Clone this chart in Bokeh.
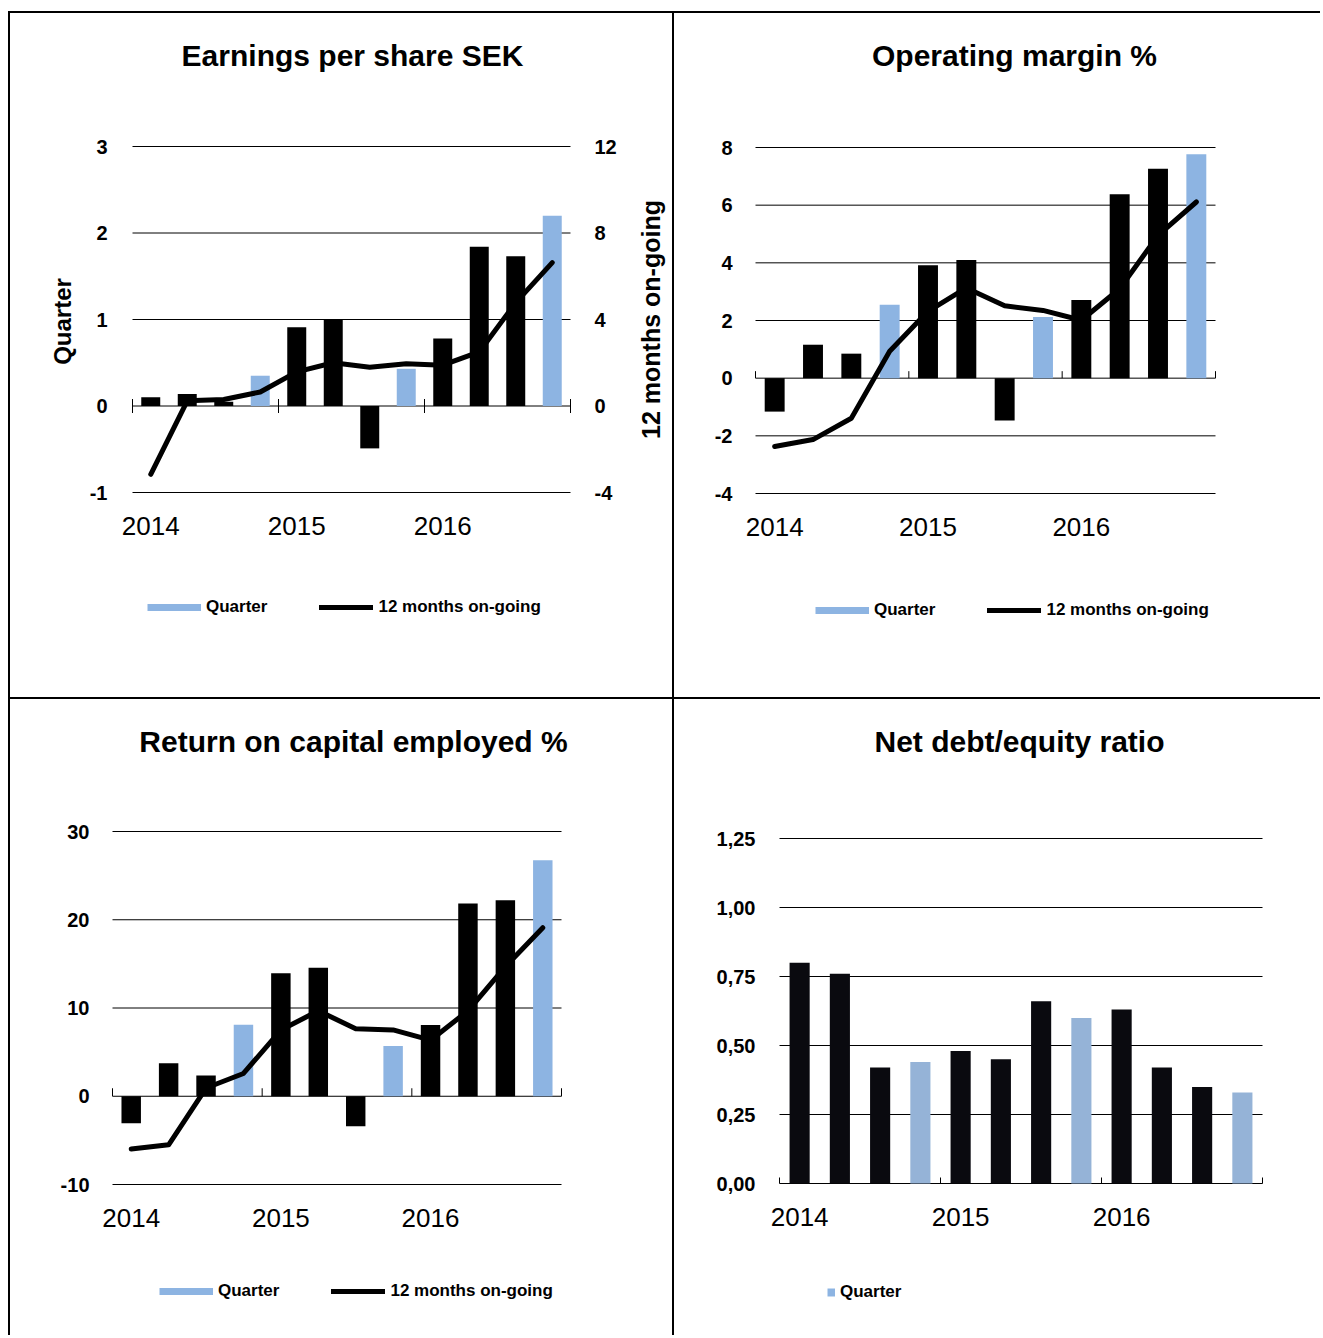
import math
from bokeh.plotting import figure
from bokeh.models import (Range1d, FixedTicker, Legend, LegendItem,
                          ColumnDataSource, Div, CustomJSTickFormatter)
from bokeh.core.properties import value
from bokeh.layouts import row, column
from bokeh.embed import file_html
from bokeh.resources import INLINE

# ---------------- data ----------------
quarters = ["Q1 2014", "Q2 2014", "Q3 2014", "Q4 2014",
            "Q1 2015", "Q2 2015", "Q3 2015", "Q4 2015",
            "Q1 2016", "Q2 2016", "Q3 2016", "Q4 2016"]
year_labels = ["2014", "2015", "2016"]

eps_quarter = [0.10, 0.14, 0.05, 0.35, 0.91, 1.00, -0.49, 0.43, 0.78, 1.84, 1.73, 2.20]
eps_12m = [-3.16, 0.24, 0.30, 0.65, 1.58, 2.00, 1.79, 1.95, 1.89, 2.50, 4.78, 6.63]
eps_left_ticks = [-1, 0, 1, 2, 3]
eps_right_ticks = [-4, 0, 4, 8, 12]

om_quarter = [-1.16, 1.16, 0.85, 2.55, 3.92, 4.10, -1.47, 2.12, 2.71, 6.38, 7.26, 7.77]
om_12m = [-2.37, -2.13, -1.39, 0.93, 2.32, 3.13, 2.51, 2.35, 2.01, 3.10, 4.95, 6.11]
om_ticks = [-4, -2, 0, 2, 4, 6, 8]

roce_quarter = [-3.06, 3.75, 2.35, 8.10, 13.95, 14.56, -3.40, 5.70, 8.08, 21.85, 22.20, 26.75]
roce_12m = [-5.97, -5.50, 0.93, 2.58, 7.50, 9.68, 7.66, 7.52, 6.35, 9.68, 14.70, 19.10]
roce_ticks = [-10, 0, 10, 20, 30]

nde_quarter = [0.80, 0.76, 0.42, 0.44, 0.48, 0.45, 0.66, 0.60, 0.63, 0.42, 0.35, 0.33]
nde_ticks = [0.0, 0.25, 0.50, 0.75, 1.00, 1.25]

# ---------------- style ----------------
FONT = "Liberation Sans"
BLACK = "#000000"
BLUE = "#8DB4E2"
BLUE4 = "#95B3D7"
DARK4 = "#0A0A0F"
NAN = float("nan")
TICK_FS = "20px"

xs = list(range(len(quarters)))
NQ = len(quarters)
year_pos = [i for i, q in enumerate(quarters) if q.startswith("Q1")]
bounds = [i - 0.5 for i in year_pos] + [NQ - 0.5]

INT_FMT = "return tick.toFixed(0);"
DEC_FMT = "return tick.toFixed(2).replace('.', ',');"


def style_yaxis(ax, ticks, standoff, fmt):
    ax.ticker = FixedTicker(ticks=ticks)
    ax.formatter = CustomJSTickFormatter(code=fmt)
    ax.axis_line_color = None
    ax.major_tick_line_color = None
    ax.minor_tick_line_color = None
    ax.major_tick_out = 0
    ax.major_tick_in = 0
    ax.minor_tick_out = 0
    ax.major_label_standoff = standoff
    ax.major_label_text_font = FONT
    ax.major_label_text_font_size = TICK_FS
    ax.major_label_text_font_style = "bold"
    ax.major_label_text_color = "black"


class Panel:
    """One chart: pixel layout constants are relative to the figure's top-left."""

    def __init__(self, title, title_cx, width, height, frame_l, frame_r, frame_h,
                 chart_l, chart_r, chart_top, chart_bottom, yticks, y_standoff, fmt,
                 tick_up, tick_down):
        self.lo, self.hi = min(yticks), max(yticks)
        self.chart_top = chart_top
        self.chart_bottom = chart_bottom
        self.frame_h = frame_h
        self.chart_l = chart_l
        self.ppu = (chart_bottom - chart_top) / (self.hi - self.lo)
        self.ppx = (chart_r - chart_l) / NQ
        x0 = -0.5 - (chart_l - frame_l) / self.ppx
        x1 = NQ - 0.5 + (frame_r - chart_r) / self.ppx
        p = figure(width=width, height=height, output_backend="svg", toolbar_location=None,
                   title=None, x_axis_location=None,
                   x_range=Range1d(x0, x1), y_range=Range1d(self.y_at(frame_h), self.y_at(0)),
                   min_border_left=frame_l, min_border_right=width - frame_r,
                   min_border_top=0, min_border_bottom=height - frame_h)
        p.outline_line_color = None
        p.background_fill_color = "white"
        p.border_fill_color = "white"
        p.xgrid.visible = False
        p.ygrid.visible = False
        style_yaxis(p.yaxis[0], yticks, y_standoff, fmt)
        self.p = p

        # horizontal grid lines across the chart area
        p.segment(x0=[-0.5] * len(yticks), x1=[NQ - 0.5] * len(yticks), y0=yticks, y1=yticks,
                  line_color="black", line_width=1)
        # small tick marks on the zero line at year boundaries
        p.segment(x0=bounds, x1=bounds, y0=[-tick_down / self.ppu] * len(bounds),
                  y1=[tick_up / self.ppu] * len(bounds), line_color="black", line_width=1)
        # title above the chart
        p.text(x=[self.x_at(title_cx)], y=[self.y_at(42)], text=[title],
               text_font=value(FONT), text_font_size="30px", text_font_style="bold",
               text_align="center", text_baseline="middle", text_color="black")
        # year labels below the chart
        p.text(x=year_pos, y=[self.y_at(chart_bottom + 33)] * len(year_pos), text=year_labels,
               text_font=value(FONT), text_font_size="26px", text_font_style="normal",
               text_align="center", text_baseline="middle", text_color="black")

    def y_at(self, px):
        return self.hi + (self.chart_top - px) / self.ppu

    def x_at(self, px):
        return -0.5 + (px - self.chart_l) / self.ppx


def add_bars(p, values, dark, light, width=0.52):
    colors = [light if q.startswith("Q4") else dark for q in quarters]
    src = ColumnDataSource(dict(x=xs, top=values, color=colors))
    return p.vbar(x="x", top="top", bottom=0, width=width, source=src,
                  fill_color="color", line_color=None)


def add_legend(p, items, loc, glyph_width):
    leg = Legend(items=items, orientation="horizontal", location=loc,
                 glyph_width=glyph_width, glyph_height=18, label_height=18,
                 label_standoff=5, spacing=52, padding=0, margin=0,
                 border_line_color=None, background_fill_alpha=0,
                 label_text_font=FONT, label_text_font_size="17px",
                 label_text_font_style="bold", label_text_color="black")
    p.add_layout(leg, "center")


def std_legend(p, line_r, loc):
    swatch = p.line(x=[NAN], y=[NAN], line_color=BLUE, line_width=7, line_cap="butt")
    add_legend(p, [LegendItem(label="Quarter", renderers=[swatch]),
                   LegendItem(label="12 months on-going", renderers=[line_r])], loc, 54)


LINE_KW = dict(line_color="black", line_width=5, line_join="round", line_cap="round")

# ---------- Panel 1: EPS ----------
P1 = Panel("Earnings per share SEK", 342, 662, 684, 102, 662, 616, 122, 560, 133, 479,
           eps_left_ticks, 5, INT_FMT, 7, 7)
p1 = P1.p
ya = p1.yaxis[0]
ya.axis_label = "Quarter"
ya.axis_label_text_font = FONT
ya.axis_label_text_font_size = "24px"
ya.axis_label_text_font_style = "bold"
ya.axis_label_text_color = "black"
ya.axis_label_standoff = 11
ppu_r = (P1.chart_bottom - P1.chart_top) / (max(eps_right_ticks) - min(eps_right_ticks))
p1.extra_y_ranges = {"right": Range1d(min(eps_right_ticks) - (P1.frame_h - P1.chart_bottom) / ppu_r,
                                      max(eps_right_ticks) + P1.chart_top / ppu_r)}
add_bars(p1, eps_quarter, BLACK, BLUE)
l1 = p1.line(xs, eps_12m, y_range_name="right", **LINE_KW)
# secondary (right) scale labels
p1.text(x=[P1.x_at(584)] * len(eps_right_ticks), y=eps_right_ticks,
        text=[str(t) for t in eps_right_ticks], y_range_name="right",
        text_font=value(FONT), text_font_size=TICK_FS, text_font_style="bold",
        text_align="left", text_baseline="middle", text_color="black")
p1.text(x=[P1.x_at(640)], y=[P1.y_at(306)], text=["12 months on-going"], angle=math.pi / 2,
        text_font=value(FONT), text_font_size="25px", text_font_style="bold",
        text_align="center", text_baseline="middle", text_color="black")
std_legend(p1, l1, (35, 12))

# ---------- Panel 2: Operating margin ----------
P2 = Panel("Operating margin %", 340, 646, 684, 61, 646, 616, 81, 541, 134, 480,
           om_ticks, 3, INT_FMT, 7, 0)
p2 = P2.p
add_bars(p2, om_quarter, BLACK, BLUE)
l2 = p2.line(xs, om_12m, **LINE_KW)
std_legend(p2, l2, (80, 9))

# ---------- Panel 3: ROCE ----------
P3 = Panel("Return on capital employed %", 343, 662, 636, 82, 662, 636, 102, 551, 132, 485,
           roce_ticks, 3, INT_FMT, 8, 0)
p3 = P3.p
add_bars(p3, roce_quarter, BLACK, BLUE)
l3 = p3.line(xs, roce_12m, **LINE_KW)
std_legend(p3, l3, (67, 34))

# ---------- Panel 4: Net debt/equity ----------
P4 = Panel("Net debt/equity ratio", 345, 646, 636, 85, 646, 636, 105, 588, 139, 484,
           nde_ticks, 4, DEC_FMT, 6, 0)
p4 = P4.p
add_bars(p4, nde_quarter, DARK4, BLUE4, width=0.5)
sw4 = p4.line(x=[NAN], y=[NAN], line_color=BLUE, line_width=8, line_cap="butt")
add_legend(p4, [LegendItem(label="Quarter", renderers=[sw4])], (68, 33), 8)


# ---------- layout with table borders ----------
def box(w, h, color=None):
    st = {"background-color": color} if color else {}
    return Div(text="", width=w, height=h, margin=0, styles=st)


layout = column(
    box(1320, 11),
    row(box(8, 2), box(1312, 2, "black")),
    row(box(8, 684), box(2, 684, "black"), p1, box(2, 684, "black"), p2),
    row(box(8, 2), box(1312, 2, "black")),
    row(box(8, 636), box(2, 636, "black"), p3, box(2, 636, "black"), p4),
)

open("out.html", "w").write(file_html(layout, INLINE))
